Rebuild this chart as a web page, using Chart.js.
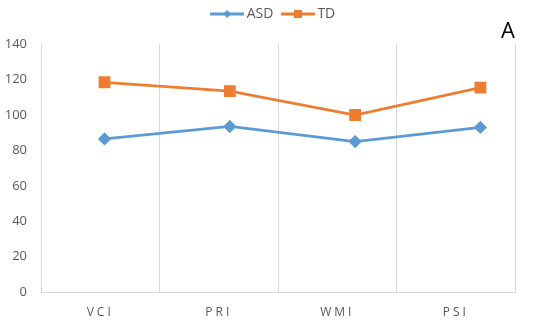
<!DOCTYPE html>
<html><head><meta charset="utf-8">
<script src="https://cdn.jsdelivr.net/npm/chart.js@4"></script>
<style>html,body{margin:0;padding:0;background:#fff}#wrap{width:550px;height:323px}</style>
</head><body><div id="wrap"><canvas id="c" width="550" height="323"></canvas></div>
<script>
const categories = ['VCI', 'PRI', 'WMI', 'PSI'];
const asdValues = [86.5, 93.5, 85, 93];
const tdValues = [118.5, 113.5, 100, 115.5];
const yTicks = [0, 20, 40, 60, 80, 100, 120, 140];
const panelLabel = 'A';

const blue = '#5B9BD5', orange = '#ED7D31', gray = '#595959', gridGray = '#d9d9d9';

// points are plotted by category index on a hidden linear axis
const toPoints = vals => vals.map((v, i) => ({ x: i, y: v }));

function legendIcon(color, style) {
  const cv = document.createElement('canvas');
  cv.width = 34; cv.height = 12;
  const c = cv.getContext('2d');
  c.strokeStyle = color; c.lineWidth = 3;
  c.beginPath(); c.moveTo(0, 6); c.lineTo(34, 6); c.stroke();
  c.fillStyle = color;
  if (style === 'diamond') {
    c.beginPath(); c.moveTo(17, 2); c.lineTo(21, 6); c.lineTo(17, 10); c.lineTo(13, 6); c.closePath(); c.fill();
  } else {
    c.fillRect(13, 2, 8, 8);
  }
  return cv;
}
const icons = [legendIcon(blue, 'diamond'), legendIcon(orange, 'square')];

const spacingPlugin = {
  id: 'spacing',
  afterUpdate(chart) {
    const s = chart.scales.x;
    if (s && !s._wrapped) {
      const orig = s.drawLabels;
      s.drawLabels = function (ca) {
        const ctx = this.ctx;
        ctx.save();
        ctx.letterSpacing = '3px';
        orig.call(this, ca);
        ctx.restore();
      };
      s._wrapped = true;
    }
  }
};

new Chart(document.getElementById('c'), {
  type: 'line',
  data: {
    labels: categories,
    datasets: [
      { label: 'ASD', data: toPoints(asdValues), borderColor: blue, backgroundColor: blue, borderWidth: 2.75,
        pointStyle: 'rectRot', pointRadius: 4.7, pointHoverRadius: 4.7, tension: 0, xAxisID: 'xp', yAxisID: 'y' },
      { label: 'TD', data: toPoints(tdValues), borderColor: orange, backgroundColor: orange, borderWidth: 2.75,
        pointStyle: 'rect', pointRadius: 6.4, pointHoverRadius: 6.4, tension: 0, xAxisID: 'xp', yAxisID: 'y' }
    ]
  },
  options: {
    responsive: false,
    animation: false,
    devicePixelRatio: 1,
    layout: { padding: { top: -5, left: 0, right: 0, bottom: 0 } },
    plugins: {
      tooltip: { enabled: false },
      title: {
        display: true,
        text: panelLabel,
        align: 'end',
        position: 'top',
        fullSize: false,
        weight: 500,
        color: '#000',
        font: { family: '"Open Sans", sans-serif', size: 22, weight: 'normal', lineHeight: 1.1 },
        padding: { top: -11, bottom: 0 }
      },
      legend: {
        position: 'top',
        weight: 1000,
        labels: {
          usePointStyle: true,
          pointStyleWidth: 25,
          boxHeight: 12,
          padding: 12,
          color: gray,
          font: { family: '"Open Sans", sans-serif', size: 14 },
          generateLabels(chart) {
            return chart.data.datasets.map((d, i) => ({
              text: d.label, fillStyle: d.borderColor, strokeStyle: d.borderColor,
              pointStyle: icons[i], datasetIndex: i, fontColor: gray, lineWidth: 0
            }));
          }
        }
      }
    },
    scales: {
      x: {
        type: 'category',
        offset: true,
        afterFit(s) { s.height = 31; },
        grid: { offset: true, color: gridGray, lineWidth: 1, drawTicks: false },
        border: { color: gridGray },
        ticks: { color: gray, padding: 13, font: { family: '"Open Sans", sans-serif', size: 12 } }
      },
      xp: {
        type: 'linear',
        display: false,
        min: -0.507,
        max: 3.276
      },
      y: {
        min: 0, max: 140,
        afterFit(s) { s.width = 41; },
        afterBuildTicks(s) { s.ticks = yTicks.map(v => ({ value: v })); },
        grid: { display: false, drawTicks: false },
        border: { color: gridGray },
        ticks: { color: gray, padding: 14, font: { family: '"Open Sans", sans-serif', size: 13 } }
      },
      yr: {
        position: 'right',
        min: 0, max: 140,
        afterFit(s) { s.width = 35; },
        grid: { display: false, drawTicks: false },
        border: { display: false },
        ticks: { display: false }
      }
    }
  },
  plugins: [spacingPlugin]
});
</script></body></html>
